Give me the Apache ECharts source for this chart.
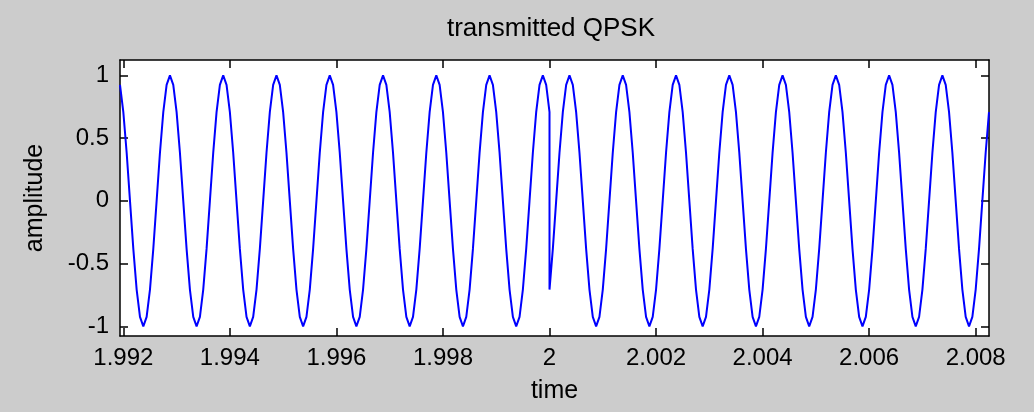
<!DOCTYPE html>
<html><head><meta charset="utf-8">
<script src="https://cdn.jsdelivr.net/npm/echarts@6/dist/echarts.min.js"></script>
<style>html,body{margin:0;padding:0;background:#cccccc}#c{width:1034px;height:412px}</style>
</head><body><div id="c"></div>
<script>
// Tick labels
const xTicks = [1.992, 1.994, 1.996, 1.998, 2, 2.002, 2.004, 2.006, 2.008];
const yTicks = [-1, -0.5, 0, 0.5, 1];
// Sampling grid (seconds): first symbol ends / second symbol starts at symbolBoundary
const symbolBoundary = 2;
const sampleStep = 0.0000625;
const xMin = 1.9919375;
const xMax = 2.00825;
const yMin = -1.077;
const yMax = 1.122;
// Transmitted waveform, symbol before t = 2 (samples ending at t = 2)
const symbol1Values = [
  0.924, 0.707, 0.383, 0, -0.383, -0.707, -0.924, -1, -0.924, -0.707, -0.383, 0, 0.383, 0.707, 0.924, 1,
  0.924, 0.707, 0.383, 0, -0.383, -0.707, -0.924, -1, -0.924, -0.707, -0.383, 0, 0.383, 0.707, 0.924, 1,
  0.924, 0.707, 0.383, 0, -0.383, -0.707, -0.924, -1, -0.924, -0.707, -0.383, 0, 0.383, 0.707, 0.924, 1,
  0.924, 0.707, 0.383, 0, -0.383, -0.707, -0.924, -1, -0.924, -0.707, -0.383, 0, 0.383, 0.707, 0.924, 1,
  0.924, 0.707, 0.383, 0, -0.383, -0.707, -0.924, -1, -0.924, -0.707, -0.383, 0, 0.383, 0.707, 0.924, 1,
  0.924, 0.707, 0.383, 0, -0.383, -0.707, -0.924, -1, -0.924, -0.707, -0.383, 0, 0.383, 0.707, 0.924, 1,
  0.924, 0.707, 0.383, 0, -0.383, -0.707, -0.924, -1, -0.924, -0.707, -0.383, 0, 0.383, 0.707, 0.924, 1,
  0.924, 0.707, 0.383, 0, -0.383, -0.707, -0.924, -1, -0.924, -0.707, -0.383, 0, 0.383, 0.707, 0.924, 1,
  0.924, 0.707
];
// Transmitted waveform, symbol after t = 2 (samples starting at t = 2)
const symbol2Values = [
  -0.707, -0.383, 0, 0.383, 0.707, 0.924, 1, 0.924, 0.707, 0.383, 0, -0.383, -0.707, -0.924, -1, -0.924,
  -0.707, -0.383, 0, 0.383, 0.707, 0.924, 1, 0.924, 0.707, 0.383, 0, -0.383, -0.707, -0.924, -1, -0.924,
  -0.707, -0.383, 0, 0.383, 0.707, 0.924, 1, 0.924, 0.707, 0.383, 0, -0.383, -0.707, -0.924, -1, -0.924,
  -0.707, -0.383, 0, 0.383, 0.707, 0.924, 1, 0.924, 0.707, 0.383, 0, -0.383, -0.707, -0.924, -1, -0.924,
  -0.707, -0.383, 0, 0.383, 0.707, 0.924, 1, 0.924, 0.707, 0.383, 0, -0.383, -0.707, -0.924, -1, -0.924,
  -0.707, -0.383, 0, 0.383, 0.707, 0.924, 1, 0.924, 0.707, 0.383, 0, -0.383, -0.707, -0.924, -1, -0.924,
  -0.707, -0.383, 0, 0.383, 0.707, 0.924, 1, 0.924, 0.707, 0.383, 0, -0.383, -0.707, -0.924, -1, -0.924,
  -0.707, -0.383, 0, 0.383, 0.707, 0.924, 1, 0.924, 0.707, 0.383, 0, -0.383, -0.707, -0.924, -1, -0.924,
  -0.707, -0.383, 0, 0.383, 0.707
];

const seriesData = [];
symbol1Values.forEach((v, i) => seriesData.push([symbolBoundary - (symbol1Values.length - 1 - i) * sampleStep, v]));
symbol2Values.forEach((v, i) => seriesData.push([symbolBoundary + i * sampleStep, v]));

const FONT = 'Liberation Sans, Arial, sans-serif';
const lineSt = { color: '#000', width: 1.5 };
const fmt = v => String(+Number(v).toFixed(3));

function xAx(pos, labels) {
  return {
    type: 'value', position: pos, min: xMin, max: xMax,
    axisLine: { show: true, onZero: false, lineStyle: lineSt },
    axisTick: { show: true, inside: true, length: 8, customValues: xTicks, lineStyle: lineSt },
    axisLabel: { show: labels, customValues: xTicks, formatter: fmt, margin: 10, fontSize: 24, fontFamily: FONT, color: '#000' },
    splitLine: { show: false },
    name: labels ? 'time' : '', nameLocation: 'middle', nameGap: 43,
    nameTextStyle: { fontSize: 25, fontFamily: FONT, color: '#000' }
  };
}
function yAx(pos, labels) {
  return {
    type: 'value', position: pos, min: yMin, max: yMax,
    axisLine: { show: true, onZero: false, lineStyle: lineSt },
    axisTick: { show: true, inside: true, length: 8, customValues: yTicks, lineStyle: lineSt },
    axisLabel: { show: labels, customValues: yTicks, formatter: fmt, margin: 11, fontSize: 24, fontFamily: FONT, color: '#000' },
    splitLine: { show: false },
    name: labels ? 'amplitude' : '', nameLocation: 'middle', nameGap: 72, nameRotate: 90,
    nameTextStyle: { fontSize: 25, fontFamily: FONT, color: '#000' }
  };
}

const chart = echarts.init(document.getElementById('c'), null, { renderer: 'canvas' });
chart.setOption({
  animation: false,
  backgroundColor: '#cccccc',
  grid: { left: 120, right: 45, top: 60, bottom: 76, show: true, backgroundColor: '#ffffff', borderWidth: 0 },
  xAxis: [xAx('bottom', true), xAx('top', false)],
  yAxis: [yAx('left', true), yAx('right', false)],
  graphic: [{
    type: 'text', x: 551, y: 29,
    style: { text: 'transmitted QPSK', font: '26px ' + FONT, fill: '#000', textAlign: 'center', textVerticalAlign: 'middle' }
  }],
  series: [{
    type: 'line', data: seriesData, xAxisIndex: 0, yAxisIndex: 0,
    showSymbol: false, symbol: 'none', clip: true,
    lineStyle: { color: '#0000ff', width: 2 }
  }]
});
</script></body></html>
